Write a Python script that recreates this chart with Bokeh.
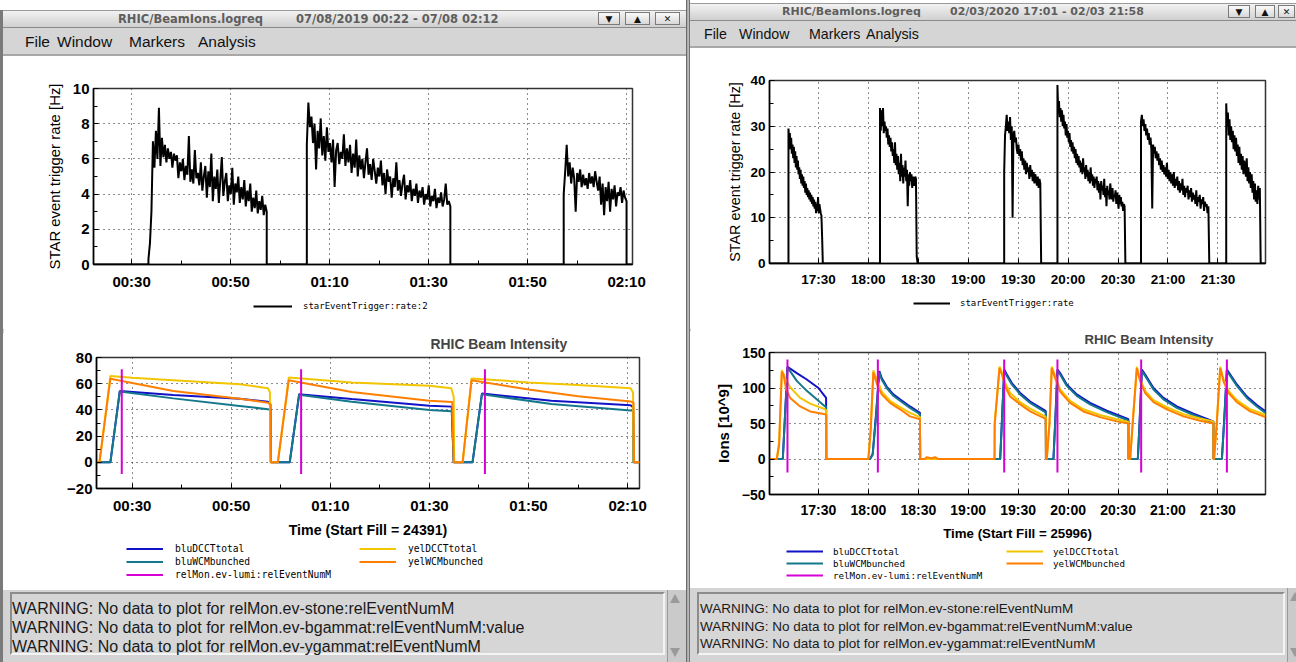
import numpy as np
from bokeh.plotting import figure
from bokeh.models import Div, Legend, LegendItem, FixedTicker, Range1d
from bokeh.layouts import column, row
from bokeh.embed import file_html
from bokeh.resources import INLINE

# ======================= DATA =======================
# ---- Left window: 07/08/2019, time in minutes after 00:00 ----
L_WINDOW_TITLE = "RHIC/BeamIons.logreq"
L_WINDOW_DATES = "07/08/2019 00:22 - 07/08 02:12"
L_X_TICKS = [30, 50, 70, 90, 110, 130]
L_X_LABELS = ["00:30", "00:50", "01:10", "01:30", "01:50", "02:10"]
L_X_MINOR = [40, 60, 80, 100, 120]
L_RATE_Y_TICKS = [0, 2, 4, 6, 8, 10]
L_RATE_Y_MINOR = [1, 3, 5, 7, 9]
L_BEAM_Y_TICKS = [-20, 0, 20, 40, 60, 80]
L_BEAM_Y_MINOR = [-10, 10, 30, 50, 70]

L_RATE_SPAN = (22.3, 131.2)
L_RATE_FILL_TIMES = [(33.4, 57.3), (65.4, 94.4), (117.3, 130.0)]
L_RATE_FILL1 = [0.3, 1.2, 3.0, 7.0, 5.5, 7.6, 6.0, 8.9, 5.6, 7.2, 6.1, 6.8, 5.8, 6.6, 6.0, 6.4, 5.5, 6.3,
                5.9, 6.2, 4.9, 5.8, 5.3, 6.0, 4.8, 5.6, 5.1, 7.3, 4.7, 5.4, 4.6, 6.5, 4.9, 5.2, 4.5, 5.8,
                4.2, 5.0, 5.6, 3.8, 5.3, 4.4, 6.3, 3.6, 5.0, 4.3, 5.4, 3.5, 4.8, 6.1, 3.9, 4.7, 5.2, 3.6,
                4.5, 4.0, 5.5, 3.4, 4.6, 4.1, 5.0, 3.5, 4.4, 3.7, 4.8, 3.3, 4.2, 3.6, 4.6, 3.0, 3.8, 3.2,
                4.2, 2.9, 3.6, 3.1, 3.9, 2.8, 3.4, 3.0]
L_RATE_FILL2 = [6.8, 9.2, 7.8, 8.4, 6.9, 8.0, 5.4, 7.6, 6.6, 8.3, 6.2, 7.3, 5.9, 7.8, 6.4, 6.9, 5.8, 7.1,
                4.4, 6.5, 6.9, 5.7, 6.4, 6.0, 7.4, 5.6, 6.6, 5.8, 6.8, 5.2, 6.3, 5.5, 7.1, 5.0, 6.2, 5.4,
                6.0, 4.9, 5.8, 6.6, 5.1, 5.7, 4.8, 6.0, 5.3, 4.6, 5.5, 5.0, 5.9, 4.5, 5.2, 4.0, 5.4, 4.7,
                5.0, 3.8, 4.9, 4.4, 5.8, 4.2, 4.8, 3.9, 4.6, 5.1, 3.7, 4.5, 4.1, 4.8, 3.6, 4.3, 3.9, 4.6,
                3.5, 4.2, 3.8, 4.4, 3.4, 4.0, 3.7, 4.5, 3.3, 3.9, 3.6, 4.3, 3.2, 3.8, 3.5, 4.1, 3.3, 3.7,
                4.6, 3.4, 3.6, 3.3]
L_RATE_FILL3 = [4.0, 5.3, 6.8, 5.0, 5.8, 4.6, 5.5, 4.9, 3.0, 5.2, 4.7, 5.4, 4.4, 5.1, 4.5, 4.9, 4.3, 5.2,
                4.6, 5.0, 4.4, 5.3, 4.7, 4.2, 5.0, 3.4, 4.6, 2.8, 4.4, 3.6, 4.7, 3.0, 4.3, 3.7, 4.5, 3.3,
                4.1, 3.9, 4.4, 3.5, 4.2, 3.8, 3.6]

L_BEAM_SPAN = (22.8, 132.4)
L_BLU_T = [22.8, 25.6, 27.5, 38.3, 51.7, 57.4, 57.9, 58.0, 61.8, 63.7, 74.3, 90.0, 94.5, 94.9,
           98.7, 100.6, 114.6, 130.6, 131.1, 131.2, 132.4]
L_BLU_DCCT_V = [0, 0, 54.4, 51.3, 48.5, 46.3, 44.5, 0, 0, 52.0, 48.3, 43.2, 42.5, 0,
                0, 52.5, 47.0, 43.5, 42.0, 0, 0]
L_BLU_WCM_V = [0, 0, 54.0, 48.8, 43.0, 40.5, 40.0, 0, 0, 51.5, 46.3, 40.0, 39.0, 0,
               0, 52.0, 44.5, 39.5, 39.5, 0, 0]
L_YEL_DCCT_T = [22.8, 23.4, 25.6, 30.0, 38.3, 51.7, 57.4, 57.8, 57.9, 59.4, 61.6, 74.3, 90.0, 94.4,
                94.9, 95.0, 96.7, 98.5, 110.0, 120.0, 130.6, 131.1, 131.2, 132.4]
L_YEL_DCCT_V = [0, 0, 65.9, 64.5, 62.6, 59.6, 56.6, 53.5, 0, 0, 64.7, 61.0, 58.5, 56.6,
                50.0, 0, 0, 64.0, 61.0, 59.0, 56.6, 53.3, 0, 0]
L_YEL_WCM_T = [22.8, 23.4, 25.6, 38.3, 51.7, 57.4, 57.9, 58.0, 59.4, 61.6, 74.3, 90.0, 94.6, 94.9,
               96.7, 98.5, 110.0, 120.0, 130.6, 131.2, 131.3, 132.4]
L_YEL_WCM_V = [0, 0, 63.8, 54.5, 48.5, 45.5, 44.0, 0, 0, 62.6, 53.7, 47.0, 46.0, 0,
               0, 62.6, 55.5, 50.5, 46.4, 45.5, 0, 0]
L_RELMON_T = [27.9, 64.1, 101.2]
L_RELMON_LO = [-9, -9, -9]
L_RELMON_HI = [71, 71, 71]
L_FILL_NO = "24391"

# ---- Right window: 02/03/2020, time in minutes after 00:00 ----
R_WINDOW_TITLE = "RHIC/BeamIons.logreq"
R_WINDOW_DATES = "02/03/2020 17:01 - 02/03 21:58"
R_X_TICKS = [1050, 1080, 1110, 1140, 1170, 1200, 1230, 1260, 1290]
R_X_LABELS = ["17:30", "18:00", "18:30", "19:00", "19:30", "20:00", "20:30", "21:00", "21:30"]
R_RATE_Y_TICKS = [0, 10, 20, 30, 40]
R_RATE_Y_MINOR = [5, 15, 25, 35]
R_BEAM_Y_TICKS = [-50, 0, 50, 100, 150]
R_BEAM_Y_MINOR = [-25, 25, 75, 125]

R_SPAN = (1020.6, 1318.6)
R_RATE_FILL_TIMES = [(1032.0, 1052.6), (1087.0, 1109.5), (1161.6, 1183.8),
                     (1193.6, 1234.4), (1243.8, 1284.8), (1295.0, 1315.7)]
R_RATE_FILL1 = [29.5, 27, 28.5, 25, 27.5, 24, 26, 23, 25.5, 22, 24.5, 21, 23.5, 20.5, 22.5, 19.5, 21,
                18.5, 20.5, 17.5, 19.5, 17, 19, 16.5, 18, 15.5, 17.5, 15, 16.5, 14.5, 16, 14, 15.5,
                13.5, 15, 13, 14.5, 12.5, 14, 12, 13.5, 11, 13, 11.5, 14.5, 11, 13, 12, 11, 10.5, 6, 0.5]
R_RATE_FILL2 = [34, 29, 33.5, 30, 34, 28.5, 31, 29, 30, 27.5, 29.5, 26, 28, 25.5, 27.5, 24.5, 26.5,
                23.5, 25, 22, 26.5, 21.5, 24, 20.5, 23.5, 19.5, 22, 18, 24, 19, 21.5, 17.5, 21, 19,
                22.5, 18, 20.5, 12.5, 19.5, 17, 20, 18, 19.5, 16.5, 19, 18, 17, 19, 18.5, 1.5, 0.3]
R_RATE_FILL3 = [20, 28, 30, 32.5, 29, 31, 28.5, 32, 27, 30, 10, 28, 29, 26.5, 27.5, 25, 24, 26, 23.5,
                25, 22.5, 24.5, 21.5, 23, 20.5, 22.5, 19.5, 22, 20, 21, 18.5, 21.5, 19, 20.5, 18, 20,
                17.5, 19.5, 18.5, 17, 19, 16.5, 18.5, 17.5, 0.5]
R_RATE_FILL4 = [39, 33, 35.5, 32, 34, 31, 33.5, 30, 32.5, 29.5, 31, 28, 30.5, 27.5, 29, 26.5, 28.5,
                25.5, 27, 24.5, 26.5, 24, 25.5, 23, 25, 22, 24, 21.5, 23.5, 21, 22.5, 20, 22, 19.5,
                23, 20, 21, 18.5, 21.5, 19, 20.5, 18, 20, 17.5, 21, 18, 19.5, 17, 19, 16.5, 18.5,
                17.5, 19, 16, 18, 15.5, 17.5, 14, 18, 16, 17, 15, 18.5, 14.5, 16.5, 12.5, 17, 15, 16,
                14, 17.5, 15.5, 14, 16.5, 13.5, 15, 14.5, 16, 13, 15.5, 14, 12, 15, 13, 14.5, 12.5,
                13.5, 11.5, 13, 12.5, 0.5]
R_RATE_FILL5 = [31, 32.5, 30, 31.5, 29, 30.5, 28, 29.5, 27, 28.5, 26, 27.5, 25, 12, 26, 24, 25.5, 23,
                24.5, 22.5, 24, 21.5, 23, 20.5, 22.5, 20, 21.5, 19.5, 21, 19, 22, 18.5, 20.5, 18, 20,
                17.5, 19.5, 17, 20, 16.5, 18.5, 17, 19, 16, 18, 15.5, 17.5, 16, 18.5, 15, 17, 14.5,
                16.5, 15.5, 17, 14, 16, 14.5, 16.5, 13.5, 15.5, 14, 15, 13, 16, 12.5, 14.5, 13.5, 15,
                12, 14, 13, 14.5, 11.5, 13.5, 12.5, 13, 11, 12.5, 0.5]
R_RATE_FILL6 = [35, 30, 33, 28, 31.5, 27, 30, 26.5, 29, 25, 28, 24.5, 27.5, 23.5, 26, 22, 25.5, 21.5,
                24, 20.5, 23.5, 19.5, 22.5, 21, 19, 23, 18, 21, 17.5, 20, 16.5, 19.5, 15.5, 18, 14,
                17.5, 13.5, 16, 13, 17, 14, 16.5, 0.5]

R_BLU_T = [1020.6, 1028.6, 1031.4, 1037, 1043, 1050, 1054, 1054.6, 1054.7,
           1081, 1082.6, 1084.6, 1086.6, 1088, 1091, 1095, 1099, 1105, 1111, 1111.1,
           1159.2, 1160.4, 1161.6, 1163.2, 1166.2, 1171.2, 1177.2, 1186.2, 1186.6, 1186.7,
           1191.2, 1192.4, 1193.6, 1195.2, 1199.2, 1205.2, 1213.2, 1223.2, 1233.2, 1236.2, 1236.3,
           1241.9, 1243.1, 1244.3, 1246.3, 1251.3, 1257.3, 1265.3, 1275.3, 1287.3, 1287.4,
           1292.4, 1293.9, 1295.4, 1297.4, 1301.4, 1307.4, 1313.4, 1318.6]
R_BLU_DCCT_V = [0, 0, 130, 121, 112, 100, 88, 86, 0,
                0, 7, 63, 124, 114, 102, 91, 84, 74, 65, 0,
                0, 63, 126, 119, 107, 93, 81, 68, 67, 0,
                0, 60, 126, 121, 105, 91, 79, 68, 59, 56, 0,
                0, 60, 126, 119, 100, 86, 74, 64, 53, 0,
                0, 60, 126, 119, 105, 88, 76, 67]
R_BLU_WCM_V = [0, 0, 129, 110, 96, 82, 74, 74, 0,
               0, 6, 60, 122, 112, 100, 89, 82, 72, 63, 0,
               0, 60, 124, 117, 105, 91, 79, 66, 65, 0,
               0, 58, 124, 119, 103, 89, 77, 66, 57, 54, 0,
               0, 58, 124, 117, 98, 84, 72, 62, 51, 0,
               0, 58, 124, 117, 103, 86, 74, 65]
R_YEL_T = [1020.6, 1025, 1026.4, 1028, 1029, 1030.6, 1033, 1039, 1045, 1054, 1054.6, 1054.7,
           1080, 1081.4, 1083, 1084, 1085.7, 1088, 1093, 1099, 1105, 1111, 1111.1,
           1114, 1115, 1118, 1120, 1122,
           1155.8, 1155.9, 1158.8, 1160.2, 1162.2, 1165.2, 1171.2, 1177.2, 1186.2, 1186.6, 1186.7,
           1187.2, 1188.8, 1190.2, 1192.2, 1195.2, 1201.2, 1209.2, 1219.2, 1229.2, 1236.2, 1236.3,
           1237.3, 1238.9, 1241.3, 1243.3, 1246.3, 1251.3, 1259.3, 1269.3, 1279.3, 1287.3, 1287.4,
           1287.7, 1289.3, 1291.4, 1293.4, 1296.4, 1301.4, 1309.4, 1318.6]
R_YEL_DCCT_V = [0, 0, 25, 125, 120, 111, 101, 86, 78, 70, 69, 0,
                0, 42, 125, 118, 109, 95, 82, 73, 65, 59, 0,
                0, 0, 0, 0, 0,
                0, 51, 130, 122, 107, 93, 80, 71, 60, 59, 0,
                0, 51, 130, 117, 98, 82, 70, 62, 56, 52, 0,
                0, 55, 130, 112, 96, 83, 73, 63, 57, 53, 0,
                0, 51, 130, 112, 96, 83, 70, 62]
R_YEL_WCM_V = [0, 0, 20, 123, 119, 98, 86, 74, 67, 63, 62, 0,
               0, 40, 122, 114, 102, 91, 79, 70, 60, 56, 0,
               0, 2.5, 1, 2.5, 0,
               0, 49, 128, 119, 102, 88, 77, 67, 57, 56, 0,
               0, 49, 128, 114, 95, 79, 67, 59, 53, 50, 0,
               0, 53, 128, 109, 93, 80, 70, 60, 54, 50, 0,
               0, 49, 128, 109, 93, 80, 67, 59]
R_RELMON_T = [1031.4, 1085.7, 1161.6, 1193.6, 1243.9, 1295.4]
R_RELMON_LO = [-19, -19, -19, -19, -19, -19]
R_RELMON_HI = [140, 140, 140, 140, 140, 140]
R_FILL_NO = "25996"

MENU_ITEMS = ["File", "Window", "Markers", "Analysis"]
WARNINGS = ["WARNING: No data to plot for relMon.ev-stone:relEventNumM",
            "WARNING: No data to plot for relMon.ev-bgammat:relEventNumM:value",
            "WARNING: No data to plot for relMon.ev-ygammat:relEventNumM"]

# ======================= STYLE =======================
BLUE = "#1212c8"
TEAL = "#14788c"
YELLOW = "#f2c500"
ORANGE = "#ff8000"
MAGENTA = "#d600d6"
SANS = "Liberation Sans"
MONO = "DejaVu Sans Mono"
SERIES_STYLE = {"bluDCCTtotal": ("line", BLUE), "bluWCMbunched": ("line", TEAL),
                "relMon.ev-lumi:relEventNumM": ("segment", MAGENTA),
                "yelDCCTtotal": ("line", YELLOW), "yelWCMbunched": ("line", ORANGE),
                "starEventTrigger:rate:2": ("line", "black"), "starEventTrigger:rate": ("line", "black")}


def no_align(p):
    try:
        p.frame_align = False
    except Exception:
        pass


def rate_series(span, fill_times, fills):
    xs, ys = [span[0]], [0.0]
    for (ts, te), vals in zip(fill_times, fills):
        xs.append(ts); ys.append(0.0)
        xs += list(np.linspace(ts, te, len(vals))); ys += list(vals)
        xs.append(te); ys.append(0.0)
    xs.append(span[1]); ys.append(0.0)
    return xs, ys


def make_fig(w, h, xr, yr, mb, xt, xl, xminor, yt, yminor, tick_px, x_standoff):
    p = figure(width=w, height=h, x_range=Range1d(*xr), y_range=Range1d(*yr),
               output_backend="svg", toolbar_location=None,
               min_border_left=mb[0], min_border_right=mb[1],
               min_border_top=mb[2], min_border_bottom=mb[3])
    no_align(p)
    p.margin = 0
    p.background_fill_color = "white"
    p.border_fill_color = "white"
    p.outline_line_color = "#333333"
    p.outline_line_width = 1.5
    p.xaxis.ticker = FixedTicker(ticks=xt, minor_ticks=xminor)
    p.xaxis.major_label_overrides = {t: l for t, l in zip(xt, xl)}
    p.yaxis.ticker = FixedTicker(ticks=yt, minor_ticks=yminor)
    for ax in (p.xaxis[0], p.yaxis[0]):
        ax.axis_line_color = "black"
        ax.axis_line_width = 1.5
        ax.major_tick_in = 5
        ax.major_tick_out = 0
        ax.minor_tick_in = 4
        ax.minor_tick_out = 0
        ax.major_tick_line_color = "black"
        ax.minor_tick_line_color = "black"
        ax.major_label_text_font = SANS
        ax.major_label_text_font_style = "bold"
        ax.major_label_text_font_size = f"{tick_px}px"
        ax.major_label_text_color = "black"
        ax.axis_label_text_color = "black"
        ax.axis_label_text_font = SANS
    p.yaxis.major_label_standoff = 4
    p.xaxis.major_label_standoff = x_standoff
    for g in (p.xgrid[0], p.ygrid[0]):
        g.grid_line_color = "black"
        g.grid_line_dash = "1 4"
        g.grid_line_width = 1
        g.grid_line_alpha = 0.9
    return p


def legend_fig(w, h, left, top, names, font_px, glyph_w, standoff, row_h, line_w):
    """A strip holding only a legend; its key renderers sit outside the strip's visible range."""
    p = figure(width=w, height=h, x_range=Range1d(0, 1), y_range=Range1d(0, 1),
               output_backend="svg", toolbar_location=None,
               x_axis_location=None, y_axis_location=None,
               min_border_left=left, min_border_top=top, min_border_right=0, min_border_bottom=0)
    no_align(p)
    p.margin = 0
    p.grid.visible = False
    p.outline_line_color = None
    p.background_fill_color = "white"
    p.border_fill_color = "white"
    items = []
    for name in names:
        kind, color = SERIES_STYLE[name]
        if kind == "segment":
            r = p.segment(x0=[-5], y0=[-5], x1=[-5], y1=[-4], color=color, line_width=line_w)
        else:
            r = p.line(x=[-5, -4], y=[-5, -4], color=color, line_width=line_w)
        items.append(LegendItem(label=name, renderers=[r]))
    lg = Legend(items=items, location="top_left")
    lg.border_line_color = None
    lg.background_fill_alpha = 0
    lg.padding = 0
    lg.margin = 0
    lg.spacing = 0
    lg.glyph_width = glyph_w
    lg.glyph_height = row_h
    lg.label_height = row_h
    lg.label_standoff = standoff
    lg.label_text_font = MONO
    lg.label_text_font_size = f"{font_px}px"
    lg.label_text_color = "black"
    p.add_layout(lg)
    return p


def rate_fig(w, h, span, mb, xt, xl, xminor, yt, yminor, ymax, tick_px, x_standoff,
             fill_times, fills, ylab_px, ylab_standoff):
    p = make_fig(w, h, span, (0, ymax), mb, xt, xl, xminor, yt, yminor, tick_px, x_standoff)
    xs, ys = rate_series(span, fill_times, fills)
    p.line(xs, ys, color="black", line_width=2)
    p.yaxis.axis_label = "STAR event trigger rate [Hz]"
    p.yaxis.axis_label_text_font_size = f"{ylab_px}px"
    p.yaxis.axis_label_text_font_style = "normal"
    p.yaxis.axis_label_standoff = ylab_standoff
    return p


def beam_fig(w, h, span, mb, xt, xl, xminor, yt, yminor, yr, tick_px, x_standoff, series, relmon,
             fill_no, ylabel, title_offset, title_px, xlab_px):
    p = make_fig(w, h, span, yr, mb, xt, xl, xminor, yt, yminor, tick_px, x_standoff)
    for name, (t, v) in series.items():
        p.line(t, v, color=SERIES_STYLE[name][1], line_width=2)
    rt, rlo, rhi = relmon
    p.segment(x0=rt, y0=rlo, x1=rt, y1=rhi, color=MAGENTA, line_width=2)
    p.title.text = "RHIC Beam Intensity"
    p.title.align = "left"
    p.title.offset = title_offset
    p.title.text_font = SANS
    p.title.text_font_style = "bold"
    p.title.text_font_size = f"{title_px}px"
    p.title.standoff = 12
    p.xaxis.axis_label = f"Time (Start Fill = {fill_no})"
    p.xaxis.axis_label_text_font_style = "bold"
    p.xaxis.axis_label_text_font_size = f"{xlab_px}px"
    p.xaxis.axis_label_standoff = 5
    if ylabel:
        p.yaxis.axis_label = ylabel
        p.yaxis.axis_label_text_font_style = "bold"
        p.yaxis.axis_label_text_font_size = "15px"
        p.yaxis.axis_label_standoff = 7
    return p


# ---------------- window chrome (HTML) ----------------
def title_bar(w, h, name, dates, x_name, x_dates, font_px, btns):
    html = (f'<div style="position:relative;width:{w}px;height:{h}px;overflow:hidden;'
            f'background:linear-gradient(#f2f2f2,#d0d0d0);border-top:1px solid #9a9a9a;'
            f'border-bottom:1px solid #8a8a8a;box-sizing:border-box;font-family:\'DejaVu Sans\';'
            f'font-weight:bold;font-size:{font_px}px;color:#5e5e5e;">')
    html += f'<span style="position:absolute;left:{x_name}px;top:0;line-height:{h - 2}px;">{name}</span>'
    html += f'<span style="position:absolute;left:{x_dates}px;top:0;line-height:{h - 2}px;">{dates}</span>'
    for bx, bw, glyph in btns:
        html += (f'<span style="position:absolute;left:{bx}px;top:1px;width:{bw}px;height:{h - 5}px;'
                 f'border:1px solid #7a7a7a;background:linear-gradient(#fafafa,#d8d8d8);text-align:center;'
                 f'font-size:9px;line-height:{h - 5}px;color:#111;">{glyph}</span>')
    html += '</div>'
    return Div(text=html, width=w, height=h, margin=0)


def menu_bar(w, h, xs, font_px):
    html = (f'<div style="position:relative;width:{w}px;height:{h}px;overflow:hidden;background:#d5d5d5;'
            f'border-bottom:2px solid #a8a8a8;box-sizing:border-box;font-family:\'{SANS}\';'
            f'font-size:{font_px}px;color:#111;">')
    for x, t in zip(xs, MENU_ITEMS):
        html += f'<span style="position:absolute;left:{x}px;top:0;line-height:{h - 1}px;">{t}</span>'
    html += '</div>'
    return Div(text=html, width=w, height=h, margin=0)


def blank(w, h, color="white"):
    return Div(text=f'<div style="width:{w}px;height:{h}px;background:{color};"></div>',
               width=w, height=h, margin=0)


def separator(w, h):
    html = (f'<div style="width:{w}px;height:{h}px;background:#cdcdcd;border-top:1px solid #b0b0b0;'
            f'border-bottom:1px solid #e6e6e6;box-sizing:border-box;"></div>')
    return Div(text=html, width=w, height=h, margin=0)


def arrow(x, y, up):
    b = "border-bottom" if up else "border-top"
    return (f'<div style="position:absolute;left:{x}px;top:{y}px;width:0;height:0;'
            f'border-left:5px solid transparent;border-right:5px solid transparent;{b}:9px solid #9a9a9a;"></div>')


def warning_box(w, h, box, font_px, text_x, tops, scroll_x, scroll_w):
    x0, y0, x1, y1 = box
    html = (f'<div style="position:relative;width:{w}px;height:{h}px;overflow:hidden;background:#d4d4d4;'
            f'font-family:\'{SANS}\';font-size:{font_px}px;color:#1a1a1a;">')
    html += (f'<div style="position:absolute;left:{x0}px;top:{y0}px;width:{x1 - x0}px;height:{y1 - y0}px;'
             f'box-sizing:border-box;border-top:2px solid #8c8c8c;border-left:2px solid #8c8c8c;'
             f'border-bottom:2px solid #f4f4f4;border-right:2px solid #f4f4f4;background:#d6d6d6;"></div>')
    for t, line in zip(tops, WARNINGS):
        html += f'<span style="position:absolute;left:{text_x}px;top:{t}px;white-space:nowrap;">{line}</span>'
    html += (f'<div style="position:absolute;left:{scroll_x}px;top:0;width:{scroll_w}px;height:{h}px;'
             f'background:#cacaca;border-left:1px solid #9a9a9a;box-sizing:border-box;"></div>')
    html += arrow(scroll_x + 3, 4, True)
    html += arrow(scroll_x + 3, h - 14, False)
    html += '</div>'
    return Div(text=html, width=w, height=h, margin=0)


# ======================= BUILD =======================
LW = 683   # left window  (page x 3..686, after a 3px window border)
RW = 606   # right window (page x 690..1296)
COL1 = ["bluDCCTtotal", "bluWCMbunched", "relMon.ev-lumi:relEventNumM"]
COL2 = ["yelDCCTtotal", "yelWCMbunched"]

# left window
l_rate = rate_fig(LW, 236, L_RATE_SPAN, (90, 54, 32, 28), L_X_TICKS, L_X_LABELS, L_X_MINOR,
                  L_RATE_Y_TICKS, L_RATE_Y_MINOR, 10, 15, 8,
                  L_RATE_FILL_TIMES, [L_RATE_FILL1, L_RATE_FILL2, L_RATE_FILL3], 14.9, 7)
l_rate_leg = legend_fig(LW, 30, 250, 8, ["starEventTrigger:rate:2"], 9, 39, 11, 12, 2)

l_beam = beam_fig(LW, 213, L_BEAM_SPAN, (93, 47, 29, 52), L_X_TICKS, L_X_LABELS, L_X_MINOR,
                  L_BEAM_Y_TICKS, L_BEAM_Y_MINOR, (-20, 80), 15, 8,
                  {"bluDCCTtotal": (L_BLU_T, L_BLU_DCCT_V),
                   "bluWCMbunched": (L_BLU_T, L_BLU_WCM_V),
                   "yelDCCTtotal": (L_YEL_DCCT_T, L_YEL_DCCT_V),
                   "yelWCMbunched": (L_YEL_WCM_T, L_YEL_WCM_V)},
                  (L_RELMON_T, L_RELMON_LO, L_RELMON_HI), L_FILL_NO, None, 334, 13.9, 14.2)
l_beam_leg = row(legend_fig(356, 50, 123, 2, COL1, 9.6, 37, 12, 13, 2),
                 legend_fig(LW - 356, 50, 0, 2, COL2, 9.6, 37, 12, 13, 2), spacing=0, margin=0)

# right window
r_rate = rate_fig(RW, 244, R_SPAN, (79, 31, 32, 29), R_X_TICKS, R_X_LABELS, [],
                  R_RATE_Y_TICKS, R_RATE_Y_MINOR, 40, 13.5, 8,
                  R_RATE_FILL_TIMES, [R_RATE_FILL1, R_RATE_FILL2, R_RATE_FILL3,
                                      R_RATE_FILL4, R_RATE_FILL5, R_RATE_FILL6], 14.4, 4)
r_rate_leg = legend_fig(RW, 28, 223, 5, ["starEventTrigger:rate"], 9, 37, 10, 12, 2)

r_beam = beam_fig(RW, 222, R_SPAN, (79, 31, 28, 51), R_X_TICKS, R_X_LABELS, [],
                  R_BEAM_Y_TICKS, R_BEAM_Y_MINOR, (-50, 150), 14, 7,
                  {"bluDCCTtotal": (R_BLU_T, R_BLU_DCCT_V),
                   "bluWCMbunched": (R_BLU_T, R_BLU_WCM_V),
                   "yelDCCTtotal": (R_YEL_T, R_YEL_DCCT_V),
                   "yelWCMbunched": (R_YEL_T, R_YEL_WCM_V)},
                  (R_RELMON_T, R_RELMON_LO, R_RELMON_HI), R_FILL_NO, "Ions [10^9]", 315, 13.1, 13.3)
r_beam_leg = row(legend_fig(316, 43, 96, 0, COL1, 9.2, 37, 10, 12, 2),
                 legend_fig(RW - 316, 43, 0, 0, COL2, 9.2, 37, 10, 12, 2), spacing=0, margin=0)

left_col = column(
    blank(LW, 10),
    title_bar(LW, 18, L_WINDOW_TITLE, L_WINDOW_DATES, 115, 293, 11.5,
              [(595, 22, "&#9660;"), (622, 25, "&#9650;"), (652, 25, "&#10005;")]),
    menu_bar(LW, 28, [22, 54, 126, 195], 15.5),
    l_rate, l_rate_leg,
    separator(LW, 5),
    l_beam, l_beam_leg,
    warning_box(LW, 72, (7, 2, 662, 65), 16, 9, [8, 27, 46], 664, 19),
    spacing=0, margin=0)

right_col = column(
    blank(RW, 3),
    title_bar(RW, 18, R_WINDOW_TITLE, R_WINDOW_DATES, 92, 260, 11,
              [(538, 22, "&#9660;"), (565, 20, "&#9650;"), (588, 17, "&#10005;")]),
    menu_bar(RW, 27, [14, 49, 119, 176], 14.2),
    r_rate, r_rate_leg,
    separator(RW, 3),
    r_beam, r_beam_leg,
    warning_box(RW, 74, (7, 4, 595, 67), 13.5, 10, [11, 29, 46], 597, 9),
    spacing=0, margin=0)

left_border = Div(text='<div style="width:3px;height:662px;background:linear-gradient(white 0 10px,#7a7a7a 10px);"></div>',
                  width=3, height=662, margin=0)
divider = Div(text='<div style="width:4px;height:662px;background:linear-gradient(90deg,#444,#aaa,#bbb,#444);"></div>',
              width=4, height=662, margin=0)

page = row(left_border, left_col, divider, right_col, spacing=0, margin=0)

open("out.html", "w").write(file_html(page, INLINE, title="RHIC Beam Ions"))
